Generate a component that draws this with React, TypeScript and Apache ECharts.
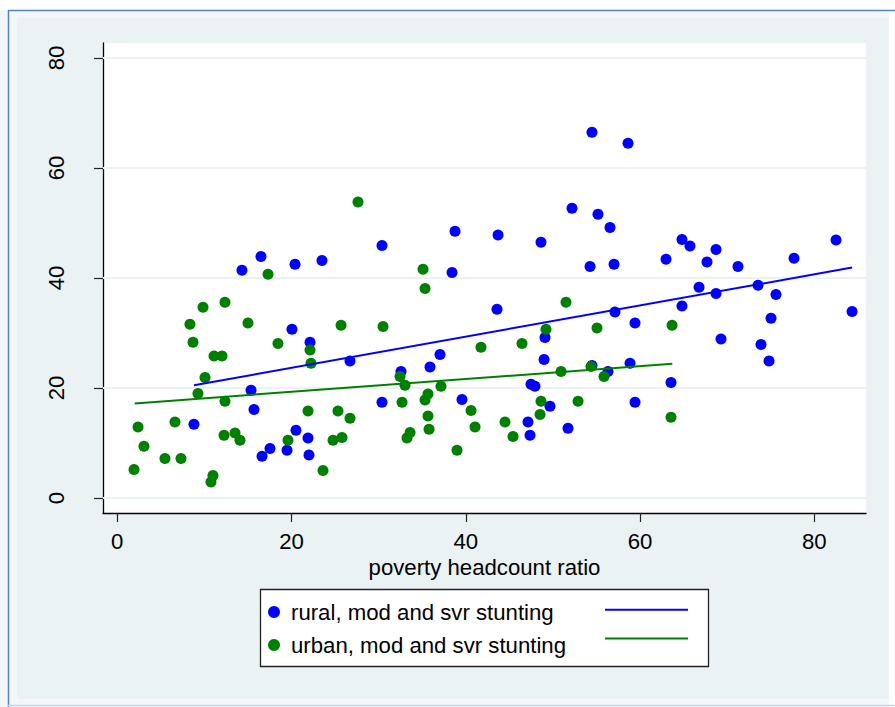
import React, { useEffect, useRef } from 'react';
import * as echarts from 'echarts';

const xTicks = [0, 20, 40, 60, 80];
const yTicks = [0, 20, 40, 60, 80];

const ruralX = [54.48, 58.62, 30.38, 38.76, 43.7, 48.63, 52.19, 55.17, 56.55, 38.42, 57.01, 54.26, 62.98, 64.81, 65.73, 68.72, 67.68, 71.24, 77.67, 82.49, 14.31, 16.49, 20.4, 23.49, 43.58, 57.12, 59.42, 64.81, 66.77, 68.72, 73.54, 75.6, 75.03, 84.33, 69.29, 73.88, 74.8, 49.09, 48.98, 20.05, 22.12, 26.71, 37.04, 35.89, 32.56, 54.48, 56.32, 58.85, 63.55, 47.48, 47.94, 15.35, 15.69, 30.38, 39.56, 49.66, 59.42, 47.14, 47.37, 51.73, 8.8, 16.61, 17.53, 19.48, 20.51, 21.89, 22.0];
const ruralY = [66.5, 64.5, 45.9, 48.5, 47.8, 46.5, 52.7, 51.6, 49.2, 41.0, 42.5, 42.1, 43.4, 47.0, 45.8, 45.2, 42.9, 42.1, 43.6, 46.9, 41.4, 43.9, 42.5, 43.2, 34.3, 33.8, 31.8, 34.9, 38.3, 37.2, 38.7, 37.0, 32.7, 33.9, 28.9, 27.9, 24.9, 29.2, 25.2, 30.7, 28.3, 24.9, 26.1, 23.8, 23.0, 24.1, 23.0, 24.5, 21.0, 20.7, 20.3, 19.6, 16.1, 17.4, 17.9, 16.7, 17.4, 13.8, 11.4, 12.7, 13.4, 7.6, 9.0, 8.7, 12.3, 10.9, 7.8];

const urbanX = [27.63, 17.3, 35.09, 35.32, 9.84, 12.36, 8.34, 15.0, 25.68, 30.5, 8.69, 18.44, 11.1, 12.02, 22.12, 22.23, 10.07, 9.26, 12.36, 32.45, 33.02, 37.15, 41.74, 21.89, 25.33, 26.71, 32.68, 35.32, 35.66, 35.66, 35.78, 40.6, 41.06, 33.25, 33.6, 24.76, 25.79, 38.99, 23.61, 2.38, 6.62, 3.06, 5.47, 7.31, 1.92, 10.98, 10.75, 12.25, 13.51, 14.08, 19.59, 51.5, 46.45, 49.2, 55.06, 63.67, 50.93, 54.37, 55.86, 48.63, 52.88, 48.52, 44.5, 45.42, 63.55];
const urbanY = [53.8, 40.7, 41.6, 38.1, 34.7, 35.6, 31.6, 31.8, 31.4, 31.2, 28.3, 28.1, 25.8, 25.8, 26.9, 24.5, 21.9, 19.0, 17.6, 22.1, 20.5, 20.3, 27.4, 15.8, 15.8, 14.5, 17.4, 17.8, 18.9, 14.9, 12.5, 15.9, 12.9, 10.9, 11.9, 10.5, 11.0, 8.7, 5.0, 12.9, 13.8, 9.4, 7.2, 7.2, 5.2, 4.1, 2.9, 11.4, 11.8, 10.5, 10.5, 35.6, 28.1, 30.7, 30.9, 31.4, 23.0, 23.9, 22.1, 17.6, 17.6, 15.2, 13.8, 11.2, 14.7];

const ruralFitX = [8.8, 84.33];
const ruralFitY = [20.5, 41.9];
const urbanFitX = [2.0, 63.7];
const urbanFitY = [17.2, 24.4];

const RURAL = 'rural, mod and svr stunting';
const URBAN = 'urban, mod and svr stunting';
const FONT = "'Liberation Sans', Arial, Helvetica, sans-serif";

const zip = (xs: number[], ys: number[]) => xs.map((x, i) => [x, ys[i]]);

export default function App() {
  const ref = useRef<HTMLDivElement>(null);
  useEffect(() => {
    if (!ref.current) return;
    const chart = echarts.init(ref.current, undefined, { renderer: 'svg' });
    const legendText = { fontSize: 22.2, color: '#000', lineHeight: 22, fontFamily: FONT };
    chart.setOption({
      animation: false,
      backgroundColor: '#ffffff',
      textStyle: { fontFamily: FONT },
      graphic: [
        { type: 'rect', z: -30, shape: { x: 0, y: 10, width: 889, height: 697 }, style: { fill: '#f3f6fa' } },
        { type: 'rect', z: -20, shape: { x: 17, y: 18, width: 872, height: 681 }, style: { fill: '#eaf2f3' } },
        { type: 'line', z: -19, shape: { x1: 8, y1: 10.5, x2: 895, y2: 10.5 }, style: { stroke: '#5682bf', lineWidth: 1.5 } },
        { type: 'line', z: -19, shape: { x1: 8.5, y1: 10, x2: 8.5, y2: 707 }, style: { stroke: '#5682bf', lineWidth: 1.5 } },
        { type: 'line', z: -19, shape: { x1: 8, y1: 705.5, x2: 895, y2: 705.5 }, style: { stroke: '#c4d8ec', lineWidth: 1.5 } },
        { type: 'rect', z: 1, shape: { x: 260.5, y: 589.5, width: 448, height: 77 }, style: { fill: '#ffffff', stroke: '#222', lineWidth: 1.3 } },
      ],
      grid: { left: 103, top: 43, width: 763, height: 470, show: true, backgroundColor: '#ffffff', borderWidth: 0 },
      xAxis: {
        type: 'value',
        min: -1.64,
        max: 85.93,
        name: 'poverty headcount ratio',
        nameLocation: 'middle',
        nameGap: 41,
        nameTextStyle: { fontSize: 22.2, color: '#000', fontFamily: FONT },
        axisLine: { show: true, onZero: false, lineStyle: { color: '#000', width: 1.3 } },
        axisTick: { show: true, customValues: xTicks, length: 9, lineStyle: { color: '#222', width: 1.2 } },
        axisLabel: { customValues: xTicks, margin: 17, fontSize: 22.2, color: '#000', fontFamily: FONT },
        splitLine: { show: false },
      },
      yAxis: {
        type: 'value',
        min: -2.727,
        max: 82.727,
        axisLine: { show: true, onZero: false, lineStyle: { color: '#000', width: 1.3 } },
        axisTick: { show: true, customValues: yTicks, length: 9, lineStyle: { color: '#222', width: 1.2 } },
        axisLabel: { customValues: yTicks, rotate: 90, margin: 36, fontSize: 22.2, color: '#000', fontFamily: FONT },
        splitLine: { show: false },
      },
      legend: [
        {
          data: [RURAL, URBAN],
          orient: 'vertical',
          left: 268,
          top: 601,
          padding: 0,
          itemWidth: 24,
          itemHeight: 12,
          itemGap: 11,
          icon: 'circle',
          selectedMode: false,
          textStyle: legendText,
          z: 10,
        },
        {
          data: ['rural fit', 'urban fit'],
          orient: 'vertical',
          left: 604,
          top: 601,
          padding: 0,
          itemWidth: 83,
          itemHeight: 22,
          itemGap: 11,
          selectedMode: false,
          formatter: () => '',
          itemStyle: { opacity: 0 },
          lineStyle: { opacity: 1 },
          textStyle: legendText,
          z: 10,
        },
      ],
      series: [
        {
          type: 'scatter',
          name: 'grid',
          data: [],
          silent: true,
          markLine: {
            silent: true,
            z: 1,
            symbol: ['none', 'none'],
            label: { show: false },
            lineStyle: { color: '#eaf2f3', width: 2, type: 'solid' },
            emphasis: { disabled: true },
            data: yTicks.map((v) => ({ yAxis: v })),
          },
        },
        {
          type: 'scatter',
          name: RURAL,
          data: zip(ruralX, ruralY),
          symbol: 'circle',
          symbolSize: 11,
          itemStyle: { color: '#0000ff', opacity: 1 },
          z: 3,
        },
        {
          type: 'scatter',
          name: URBAN,
          data: zip(urbanX, urbanY),
          symbol: 'circle',
          symbolSize: 11,
          itemStyle: { color: '#008000', opacity: 1 },
          z: 3,
        },
        {
          type: 'line',
          name: 'rural fit',
          data: zip(ruralFitX, ruralFitY),
          symbol: 'none',
          lineStyle: { color: '#0000ff', width: 2 },
          itemStyle: { color: '#0000ff' },
          z: 4,
        },
        {
          type: 'line',
          name: 'urban fit',
          data: zip(urbanFitX, urbanFitY),
          symbol: 'none',
          lineStyle: { color: '#008000', width: 2 },
          itemStyle: { color: '#008000' },
          z: 4,
        },
      ],
    });
    return () => chart.dispose();
  }, []);
  return <div ref={ref} style={{ position: 'fixed', left: 0, top: 0, width: 895, height: 707 }} />;
}
